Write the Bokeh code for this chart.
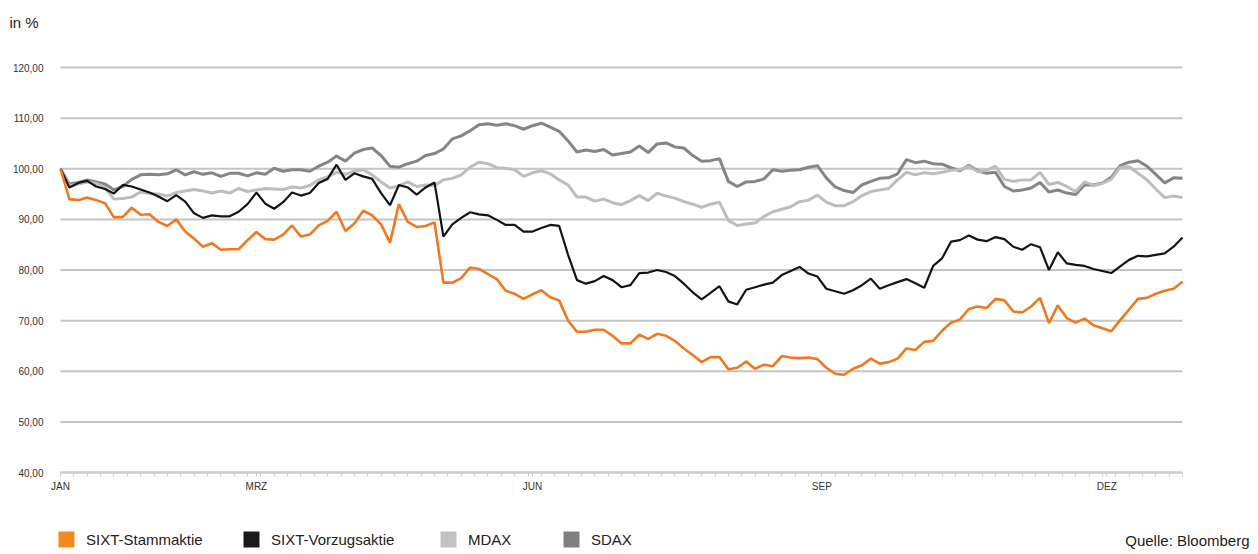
from bokeh.plotting import figure
from bokeh.models import Range1d, FixedTicker, Legend, LegendItem, Label, LinearAxis
from bokeh.embed import file_html
from bokeh.resources import INLINE

# trading days (every second day of the year)
days = list(range(0, 253, 2))

stamm = [100, 94.0, 93.8, 94.3, 93.8, 93.2, 90.4, 90.5, 92.3, 90.9,
         91.0, 89.5, 88.7, 90.0, 87.6, 86.2, 84.6, 85.3, 84.0, 84.1,
         84.1, 85.9, 87.5, 86.1, 86.0, 87.0, 88.8, 86.6, 87.0, 88.8,
         89.7, 91.5, 87.7, 89.2, 91.7, 90.8, 89.0, 85.4, 93.0, 89.5,
         88.5, 88.7, 89.4, 77.5, 77.5, 78.4, 80.5, 80.2, 79.2, 78.2,
         75.9, 75.3, 74.3, 75.2, 76.0, 74.6, 74.0, 70.0, 67.8, 67.8,
         68.2, 68.2, 67.0, 65.5, 65.5, 67.2, 66.4, 67.4, 67.0, 66.0,
         64.5, 63.2, 61.8, 62.8, 62.8, 60.4, 60.7, 61.9, 60.5, 61.3,
         61.0, 63.0, 62.7, 62.6, 62.7, 62.4, 60.7, 59.5, 59.3, 60.5,
         61.2, 62.5, 61.5, 61.8, 62.5, 64.5, 64.2, 65.8, 66.0, 68.0,
         69.6, 70.2, 72.3, 72.8, 72.5, 74.3, 74.0, 71.8, 71.6, 72.8,
         74.5, 69.5, 73.0, 70.5, 69.6, 70.4, 69.1, 68.5, 67.9, 70.1,
         72.2, 74.3, 74.5, 75.3, 75.9, 76.3, 77.7]

vorzug = [100, 96.3, 97.2, 97.6, 96.5, 96.0, 95.1, 96.8, 96.5, 95.9,
          95.3, 94.5, 93.6, 94.8, 93.5, 91.2, 90.3, 90.8, 90.6, 90.6,
          91.5, 93.0, 95.3, 93.1, 92.1, 93.4, 95.3, 94.7, 95.2, 97.2,
          98.0, 100.8, 97.8, 99.1, 98.5, 98.0, 95.2, 92.8, 96.8, 96.3,
          94.9, 96.3, 97.3, 86.6, 89.0, 90.3, 91.4, 91.0, 90.8, 89.9,
          88.9, 88.9, 87.6, 87.6, 88.3, 88.9, 88.7, 83.0, 78.0, 77.3,
          77.8, 78.8, 78.0, 76.6, 77.0, 79.4, 79.5, 80.0, 79.6, 78.8,
          77.3, 75.6, 74.2, 75.5, 76.8, 73.8, 73.2, 76.1, 76.6, 77.1,
          77.5, 79.0, 79.8, 80.6, 79.3, 78.7, 76.3, 75.8, 75.3, 76.0,
          77.0, 78.3, 76.3, 77.0, 77.6, 78.2, 77.4, 76.5, 80.8, 82.3,
          85.6, 85.9, 86.8, 86.0, 85.7, 86.5, 86.1, 84.6, 84.0, 85.1,
          84.5, 80.0, 83.5, 81.3, 81.0, 80.8, 80.2, 79.8, 79.4, 80.7,
          82.0, 82.8, 82.7, 83.0, 83.3, 84.6, 86.4]

mdax = [100, 96.6, 97.0, 97.4, 97.1, 96.3, 94.0, 94.1, 94.4, 95.4,
        95.1, 95.0, 94.6, 95.3, 95.6, 95.9, 95.6, 95.2, 95.6, 95.2,
        96.1, 95.5, 95.8, 96.1, 96.0, 95.9, 96.4, 96.2, 96.7, 97.8,
        98.4, 99.3, 98.9, 99.5, 99.8, 98.8, 97.4, 96.2, 96.6, 97.4,
        96.5, 96.8, 96.7, 97.8, 98.1, 98.8, 100.3, 101.3, 101.0, 100.2,
        100.1, 99.8, 98.5, 99.2, 99.6, 99.0, 97.8, 96.8, 94.4, 94.4,
        93.6, 94.0, 93.3, 92.9, 93.7, 94.7, 93.7, 95.2, 94.6, 94.2,
        93.5, 93.0, 92.4, 93.0, 93.4, 89.8, 88.8, 89.1, 89.3, 90.6,
        91.5, 92.0, 92.5, 93.5, 93.8, 94.8, 93.4, 92.7, 92.7, 93.5,
        94.7, 95.5, 95.8, 96.1, 97.8, 99.3, 98.8, 99.2, 99.0, 99.3,
        99.7, 99.8, 100.5, 99.4, 99.7, 100.5, 97.9, 97.5, 97.8, 97.8,
        99.3, 96.9, 97.3, 96.5, 95.5, 97.4, 96.7, 97.1, 97.9, 100.3,
        100.4, 99.1, 97.8, 96.0, 94.3, 94.6, 94.3]

sdax = [100, 97.0, 97.3, 97.8, 97.4, 97.0, 95.8, 96.5, 97.9, 98.8,
        98.9, 98.8, 99.0, 99.8, 98.8, 99.4, 98.9, 99.2, 98.5, 99.1,
        99.1, 98.6, 99.2, 98.9, 100.1, 99.5, 99.8, 99.8, 99.5, 100.5,
        101.3, 102.5, 101.5, 103.1, 103.8, 104.1, 102.6, 100.5, 100.3, 101.0,
        101.5, 102.6, 103.0, 103.9, 105.9, 106.5, 107.5, 108.7, 108.9, 108.6,
        108.9, 108.5, 107.8, 108.5, 109.0, 108.2, 107.4, 105.5, 103.3, 103.7,
        103.4, 103.8, 102.7, 103.0, 103.3, 104.5, 103.2, 104.9, 105.1, 104.3,
        104.1, 102.6, 101.5, 101.6, 102.0, 97.5, 96.5, 97.4, 97.5, 98.0,
        99.8, 99.5, 99.7, 99.8, 100.3, 100.6, 98.2, 96.4, 95.7, 95.3,
        96.8, 97.5, 98.1, 98.2, 99.0, 101.8, 101.2, 101.5, 101.0, 100.9,
        100.2, 99.6, 100.7, 99.6, 99.1, 99.3, 96.5, 95.6, 95.8, 96.2,
        97.3, 95.4, 95.8, 95.2, 94.9, 96.8, 96.8, 97.2, 98.3, 100.6,
        101.3, 101.6, 100.5, 98.9, 97.2, 98.2, 98.1]

series_names = ["SIXT-Stammaktie", "SIXT-Vorzugsaktie", "MDAX", "SDAX"]
months = ["JAN", "MRZ", "JUN", "SEP", "DEZ"]
month_pos = [0, 44, 106, 171, 235]
y_ticks = [40, 50, 60, 70, 80, 90, 100, 110, 120]
y_labels = ["40,00", "50,00", "60,00", "70,00", "80,00", "90,00", "100,00", "110,00", "120,00"]
unit_text = "in %"
source_text = "Quelle: Bloomberg"

for s in (stamm, vorzug, mdax, sdax):
    assert len(s) == len(days)

FONT = "Liberation Sans"
TXT = "#222222"
C_ORANGE = "#f27820"
C_BLACK = "#141414"
C_MDAX = "#bdbdbd"
C_SDAX = "#858585"
legend_colors = ["#f28a1e", "#1a1a1a", "#c2c2c2", "#808080"]

# ---- canvas geometry (pixels) ----
W, H = 1250, 552
PL, PR, PT, PB = 60, 1182, 67, 472          # plot area inside the canvas
X0, X1 = 0, 252                              # day range of the plot area
Y0, Y1 = 40, 120                             # value range of the plot area
sx = (PR - PL) / (X1 - X0)
sy = (PB - PT) / (Y1 - Y0)
x_range = Range1d(X0 - PL / sx, X1 + (W - PR) / sx)
y_range = Range1d(Y0 - (H - PB) / sy, Y1 + PT / sy)

p = figure(width=W, height=H, x_range=x_range, y_range=y_range,
           output_backend="svg", toolbar_location=None, title=None,
           x_axis_location=None, y_axis_location=None,
           min_border=0, min_border_left=0, min_border_right=0,
           min_border_top=0, min_border_bottom=0)
p.outline_line_color = None
p.grid.visible = False

# horizontal grid lines, spanning only the plot area
p.segment(x0=[X0] * len(y_ticks), x1=[X1] * len(y_ticks), y0=y_ticks, y1=y_ticks,
          line_color="#c4c4c4", line_width=2)

# y axis pinned at the left edge of the plot area
yax = LinearAxis(fixed_location=X0, bounds=(Y0, Y1), ticker=FixedTicker(ticks=y_ticks))
yax.major_label_overrides = dict(zip(y_ticks, y_labels))
yax.axis_line_color = None
yax.major_tick_line_color = None
yax.minor_tick_line_color = None
yax.major_label_standoff = 11
yax.major_label_text_font = FONT
yax.major_label_text_font_size = "10px"
yax.major_label_text_color = "#333333"
p.add_layout(yax, "left")

# x axis pinned at the bottom of the plot area
xax = LinearAxis(fixed_location=Y0, bounds=(X0, X1),
                 ticker=FixedTicker(ticks=month_pos, minor_ticks=list(range(0, 253, 3))))
xax.major_label_overrides = dict(zip(month_pos, months))
xax.axis_line_color = "#cfcfcf"
xax.axis_line_width = 2
xax.major_tick_line_color = "#cfcfcf"
xax.minor_tick_line_color = "#cfcfcf"
xax.major_tick_in = 0
xax.major_tick_out = 4
xax.minor_tick_in = 0
xax.minor_tick_out = 4
xax.major_label_standoff = 4
xax.major_label_text_font = FONT
xax.major_label_text_font_size = "10px"
xax.major_label_text_color = "#333333"
p.add_layout(xax, "below")

# lines
p.line(days, sdax, line_color=C_SDAX, line_width=3)
p.line(days, mdax, line_color=C_MDAX, line_width=3)
p.line(days, vorzug, line_color=C_BLACK, line_width=2.2)
p.line(days, stamm, line_color=C_ORANGE, line_width=2.6)

# legend swatches (zero-area proxies at each series' first point)
legend_x = [56, 241, 438, 561]
for name, col, ser, lx in zip(series_names, legend_colors, (stamm, vorzug, mdax, sdax), legend_x):
    r = p.quad(left=days[:1], right=days[:1], bottom=ser[:1], top=ser[:1],
               fill_color=col, line_color=None)
    leg = Legend(items=[LegendItem(label=name, renderers=[r])], location=(lx, 3),
                 orientation="horizontal", padding=0, margin=0, spacing=0,
                 border_line_color=None, background_fill_alpha=0,
                 glyph_width=20, glyph_height=20, label_height=20, label_standoff=10,
                 label_text_font=FONT, label_text_font_size="15px",
                 label_text_color=TXT, label_text_baseline="middle")
    p.add_layout(leg)

p.add_layout(Label(x=9, y=H - 22, x_units="screen", y_units="screen", text=unit_text,
                   text_font=FONT, text_font_size="15px", text_color=TXT,
                   text_baseline="alphabetic", text_align="left"))
p.add_layout(Label(x=1249, y=H - 540, x_units="screen", y_units="screen", text=source_text,
                   text_font=FONT, text_font_size="15px", text_color=TXT,
                   text_baseline="middle", text_align="right"))

open("out.html", "w").write(file_html(p, INLINE))
